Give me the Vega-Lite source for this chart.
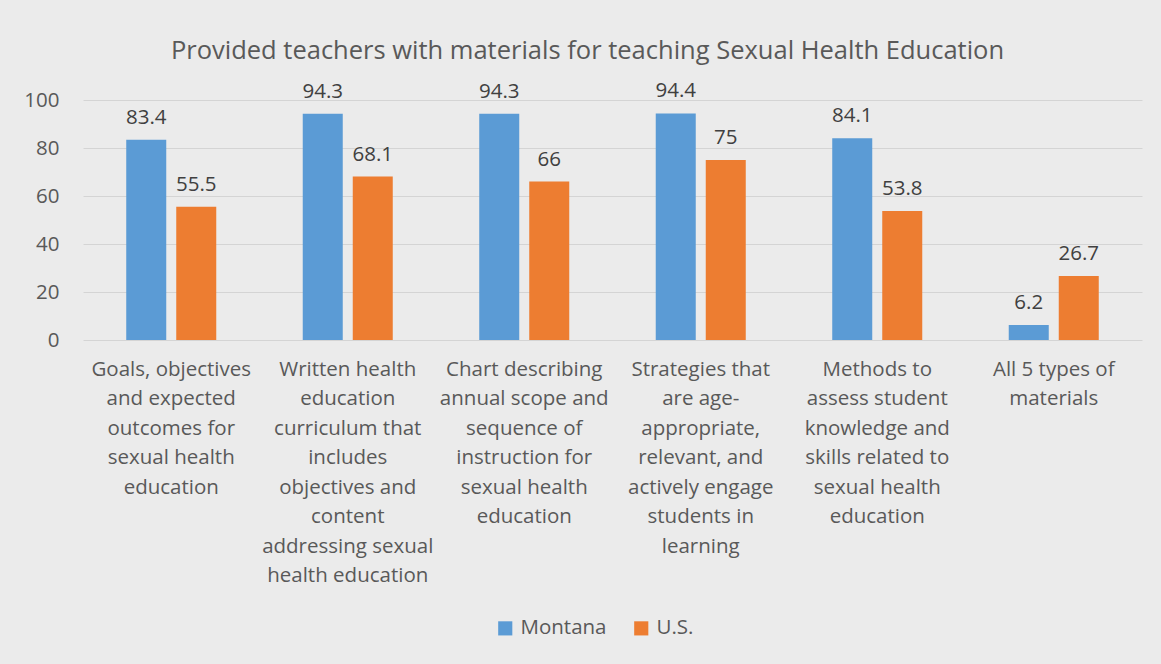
{
  "$schema": "https://vega.github.io/schema/vega-lite/v6.json",
  "autosize": "none",
  "width": 1059,
  "height": 240,
  "padding": {"left": 83, "top": 100, "right": 19, "bottom": 324},
  "background": "#ebebeb",
  "title": {
    "text": "Provided teachers with materials for teaching Sexual Health Education",
    "font": "Open Sans",
    "fontSize": 25.5,
    "fontWeight": "normal",
    "color": "#595959",
    "anchor": "middle",
    "offset": 17,
    "dx": -25
  },
  "data": {
    "values": [
      {"category": "Goals, objectives|and expected|outcomes for|sexual health|education", "series": "Montana", "value": 83.4},
      {"category": "Goals, objectives|and expected|outcomes for|sexual health|education", "series": "U.S.", "value": 55.5},
      {"category": "Written health|education|curriculum that|includes|objectives and|content|addressing sexual|health education", "series": "Montana", "value": 94.3},
      {"category": "Written health|education|curriculum that|includes|objectives and|content|addressing sexual|health education", "series": "U.S.", "value": 68.1},
      {"category": "Chart describing|annual scope and|sequence of|instruction for|sexual health|education", "series": "Montana", "value": 94.3},
      {"category": "Chart describing|annual scope and|sequence of|instruction for|sexual health|education", "series": "U.S.", "value": 66},
      {"category": "Strategies that|are age-|appropriate,|relevant, and|actively engage|students in|learning", "series": "Montana", "value": 94.4},
      {"category": "Strategies that|are age-|appropriate,|relevant, and|actively engage|students in|learning", "series": "U.S.", "value": 75},
      {"category": "Methods to|assess student|knowledge and|skills related to|sexual health|education", "series": "Montana", "value": 84.1},
      {"category": "Methods to|assess student|knowledge and|skills related to|sexual health|education", "series": "U.S.", "value": 53.8},
      {"category": "All 5 types of|materials", "series": "Montana", "value": 6.2},
      {"category": "All 5 types of|materials", "series": "U.S.", "value": 26.7}
    ]
  },
  "encoding": {
    "x": {
      "field": "category",
      "type": "nominal",
      "sort": null,
      "scale": {"paddingInner": 0.49, "paddingOuter": 0.245},
      "axis": {
        "title": null,
        "labelAngle": 0,
        "labelExpr": "split(datum.label, '|')",
        "labelFont": "Open Sans",
        "labelFontSize": 20.5,
        "labelColor": "#595959",
        "labelLineHeight": 29.5,
        "labelPadding": 19,
        "labelBaseline": "top",
        "labelLimit": 0,
        "ticks": false,
        "domain": false
      }
    },
    "xOffset": {
      "field": "series",
      "type": "nominal",
      "scale": {"paddingInner": 0.2, "paddingOuter": 0}
    },
    "y": {
      "field": "value",
      "type": "quantitative",
      "scale": {"domain": [0, 100]},
      "axis": {
        "title": null,
        "values": [0, 20, 40, 60, 80, 100],
        "labelFont": "Open Sans",
        "labelFontSize": 20.5,
        "labelColor": "#595959",
        "labelPadding": 24,
        "ticks": false,
        "domain": false,
        "gridColor": "#d4d4d4",
        "gridWidth": 1
      }
    }
  },
  "layer": [
    {
      "mark": {"type": "bar"},
      "encoding": {
        "color": {
          "field": "series",
          "type": "nominal",
          "scale": {"domain": ["Montana", "U.S."], "range": ["#5b9bd5", "#ed7d31"]},
          "legend": {
            "title": null,
            "orient": "none",
            "direction": "horizontal",
            "legendX": 412,
            "legendY": 518,
            "symbolType": "square",
            "symbolSize": 200,
            "symbolStrokeWidth": 0,
            "labelFont": "Open Sans",
            "labelFontSize": 20.5,
            "labelColor": "#595959",
            "labelOffset": 5,
            "columnPadding": 24
          }
        }
      }
    },
    {
      "mark": {"type": "text", "baseline": "bottom", "dy": -12, "font": "Open Sans", "fontSize": 20.5, "color": "#404040"},
      "encoding": {
        "text": {"field": "value", "type": "quantitative"}
      }
    }
  ],
  "config": {"view": {"stroke": null}}
}
